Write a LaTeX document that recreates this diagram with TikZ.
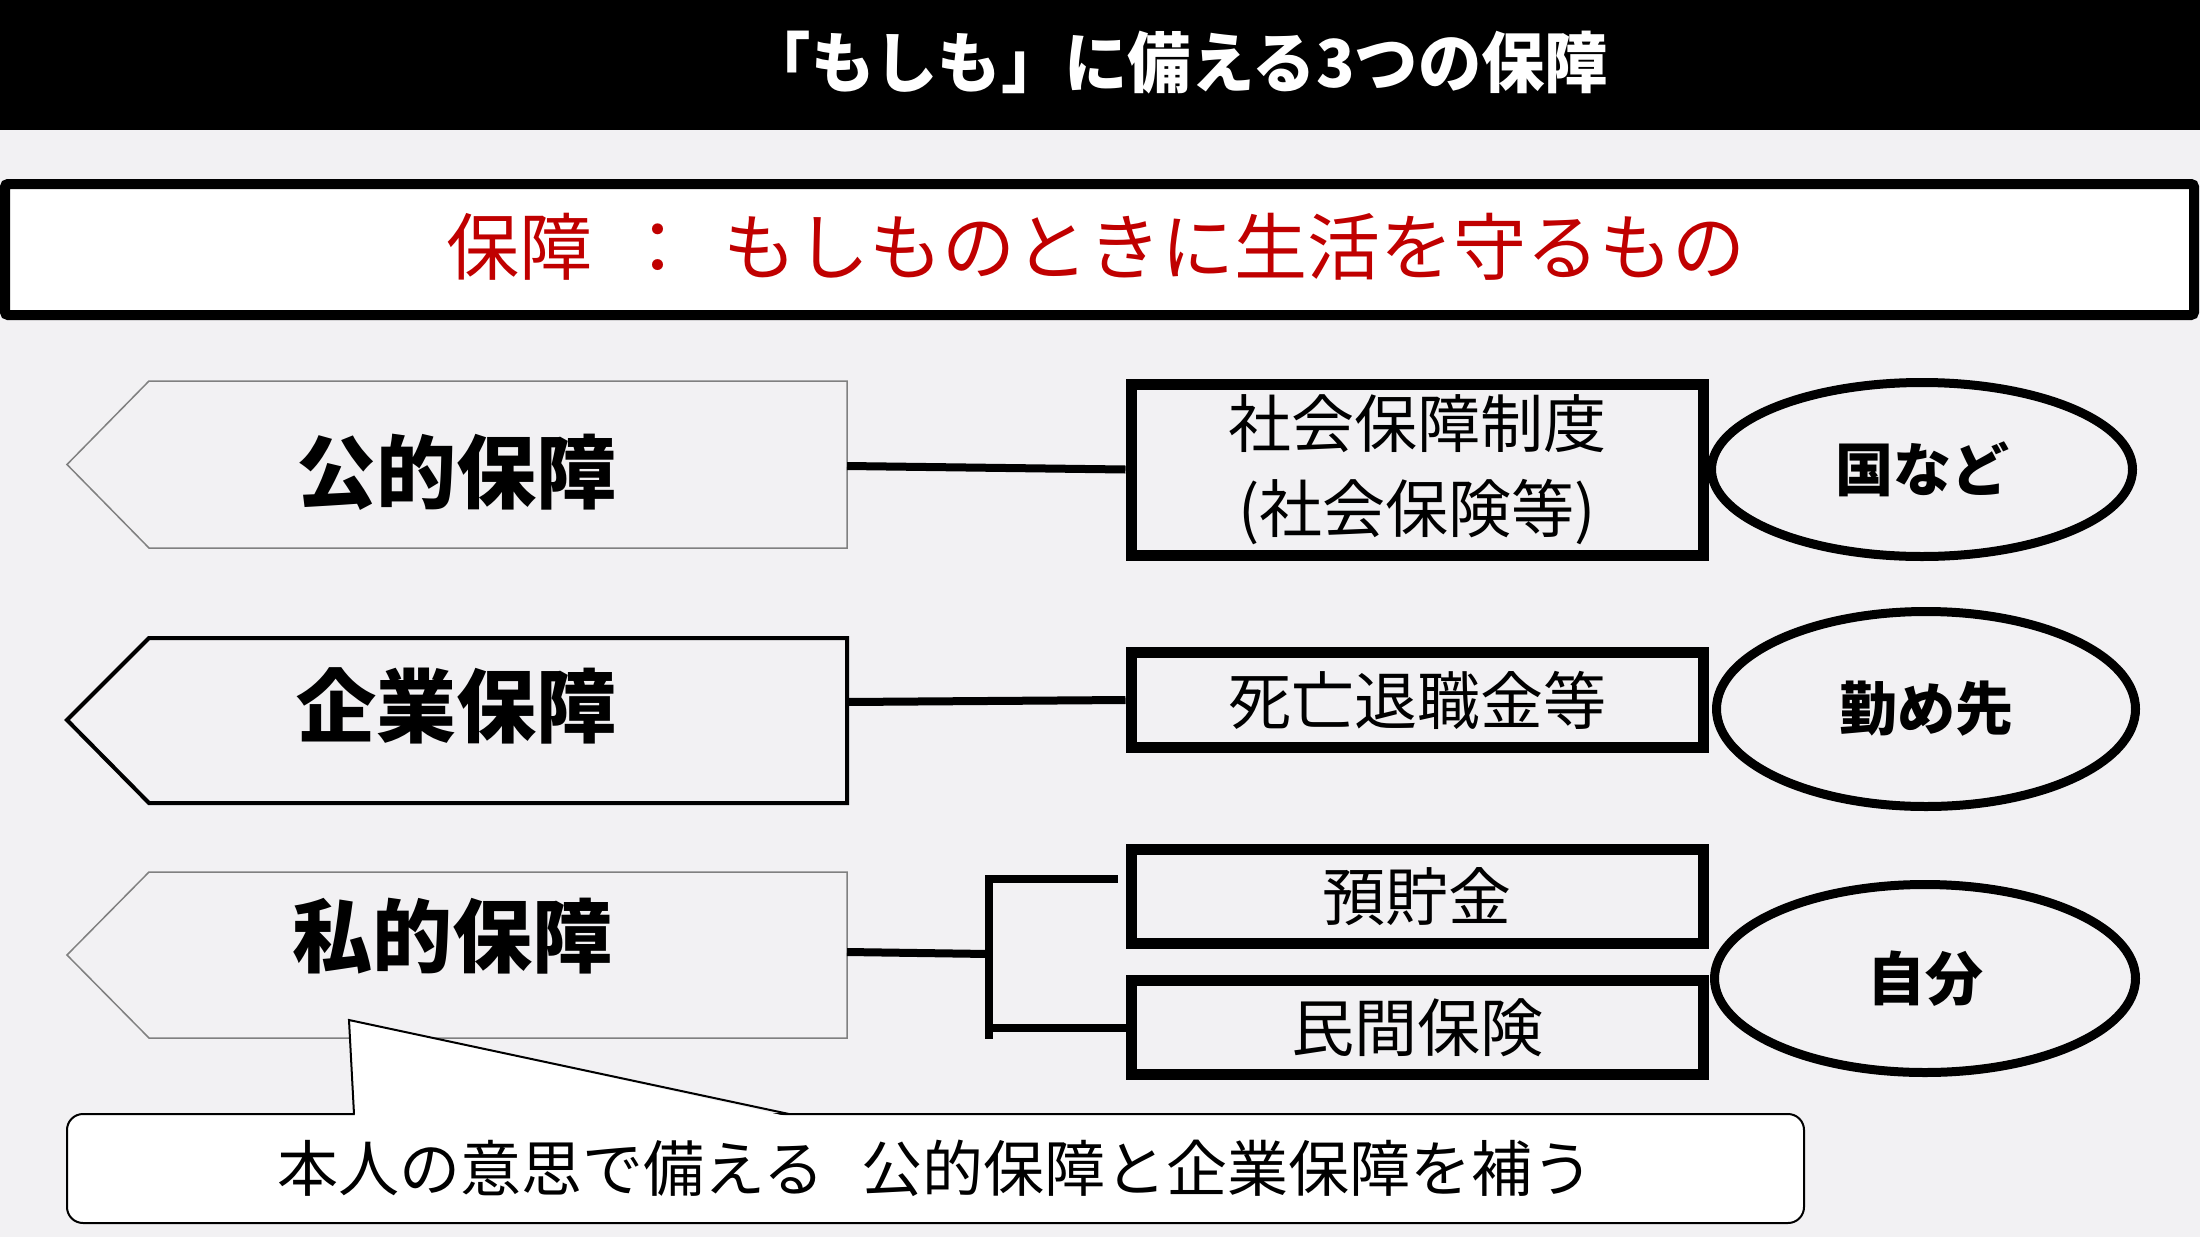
\documentclass[tikz,border=0pt]{standalone}
\usepackage{fontspec}
\setmainfont{Noto Sans CJK JP}
\usetikzlibrary{shapes.geometric}
\definecolor{bgc}{HTML}{F2F1F3}
\definecolor{redc}{HTML}{C00000}
\definecolor{thingray}{HTML}{808080}
\begin{document}
\begin{tikzpicture}[x=1pt,y=-1pt,
  thinarrow/.style={draw=thingray, line width=1.5pt, fill=bgc},
  thickarrow/.style={draw=black, line width=4pt, fill=bgc, line join=miter},
  arrowlabel/.style={font=\fontsize{80}{84}\selectfont\bfseries, inner sep=0pt},
  itembox/.style={draw=black, line width=11pt, fill=bgc, minimum width=572pt, inner sep=0pt, align=center, font=\fontsize{63}{85}\selectfont},
  whobox/.style={draw=black, line width=9pt, ellipse, fill=bgc, inner sep=0pt, font=\fontsize{58}{62}\selectfont\bfseries},
  conn/.style={draw=black, line width=8pt},
]
\useasboundingbox (0,0) rectangle (2200,1237);
\fill[bgc] (0,0) rectangle (2200,1237);
% header
\fill[black] (0,0) rectangle (2200,130);
\node[text=white, font=\fontsize{66}{70}\selectfont\bfseries, inner sep=0pt, xscale=0.96] (title) at (1178,63) {「もしも」に備える3つの保障};
% definition
\node[draw=black, line width=10pt, fill=white, minimum width=2189pt, minimum height=131pt, inner sep=0pt, rounded corners=3pt] (def) at (1099.5,249.5) {};
\node[text=redc, font=\fontsize{73}{76}\selectfont, inner sep=0pt] (deftext) at (1096,247) {保障\hspace{0.4em}：\hspace{0.4em}もしものときに生活を守るもの};
% arrows
\draw[thinarrow] (67,464.5) -- (149,381) -- (847,381) -- (847,548) -- (149,548) -- cycle;
\coordinate (pubR) at (847,466);
\node[arrowlabel] (pub) at (456,472) {公的保障};
\draw[thickarrow] (67,720) -- (149,638) -- (847,638) -- (847,803) -- (149,803) -- cycle;
\coordinate (corpR) at (847,702);
\node[arrowlabel] (corp) at (456,706) {企業保障};
\draw[thinarrow] (67,955) -- (149,872) -- (847,872) -- (847,1038) -- (149,1038) -- cycle;
\coordinate (privR) at (847,952);
\node[arrowlabel] (priv) at (452,936) {私的保障};
% item boxes
\node[itembox, minimum height=171pt] (social) at (1417,469.5) {社会保障制度\\(社会保険等)};
\node[itembox, minimum height=95pt] (death) at (1417,700) {死亡退職金等};
\node[itembox, minimum height=94pt] (savings) at (1417,896.5) {預貯金};
\node[itembox, minimum height=94pt] (insur) at (1417,1027.5) {民間保険};
% who ellipses
\node[whobox, minimum width=421pt, minimum height=174pt] (state) at (1922,469.5) {国など};
\node[whobox, minimum width=419pt, minimum height=195pt] (employer) at (1926,709) {勤め先};
\node[whobox, minimum width=421pt, minimum height=188pt] (self) at (1925,978.5) {自分};
% connectors
\draw[conn] (pubR) -- (social.west);
\draw[conn] (corpR) -- (death.west);
\coordinate (brM) at (989,954);
\coordinate (brT) at (989,875);
\coordinate (brB) at (989,1039);
\coordinate (brTend) at (1118,879);
\draw[conn] (privR) -- (brM);
\draw[conn] (brT) -- (brB);
\draw[conn] (brT |- brTend) -- (brTend);
\draw[conn] (brB |- insur.west) -- (insur.west);
% callout
\node[draw=black, line width=2pt, fill=white, rounded corners=16pt, minimum width=1737pt, minimum height=109pt, inner sep=0pt,
      font=\fontsize{61}{65}\selectfont] (note) at (935.5,1168.5) {本人の意思で備える\hspace{0.6em}公的保障と企業保障を補う};
\coordinate (ptL) at (354,1114);
\coordinate (ptTip) at (349,1020);
\coordinate (ptR) at (789,1114);
\fill[white] (355,1116.5) -- (ptTip) -- (788,1116.5) -- cycle;
\draw[black, line width=2pt, line join=miter] (ptL) -- (ptTip) -- (ptR);
\end{tikzpicture}
\end{document}
